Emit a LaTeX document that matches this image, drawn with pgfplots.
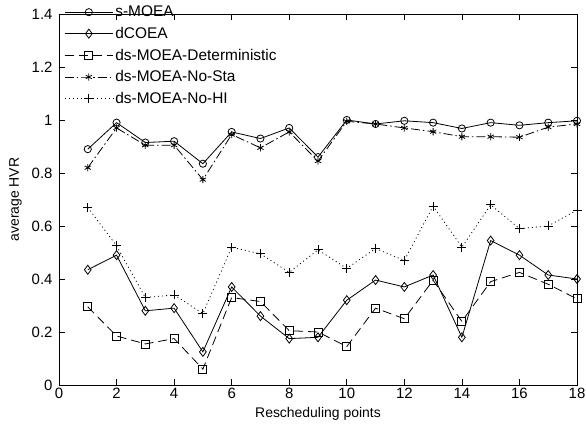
\documentclass[border=0pt]{standalone}
\usepackage{pgfplots}
\pgfplotsset{compat=1.18}
\usepackage{fontspec}
\setmainfont{Liberation Sans}
\begin{document}
\begin{tikzpicture}
\begin{axis}[
  scale only axis,
  width=518bp, height=371bp,
  xmin=0, xmax=18, ymin=0, ymax=1.4,
  xtick={0,2,...,18},
  ytick={0,0.2,0.4,0.6,0.8,1,1.2,1.4},
  yticklabels={0,0.2,0.4,0.6,0.8,1,1.2,1.4},
  tick align=inside,
  tick pos=both,
  major tick length=6bp,
  every tick/.style={black, line width=0.7pt},
  axis line style={line width=0.9pt},
  /pgf/number format/assume math mode=true,
  tick label style={font=\fontsize{15}{17}\selectfont},
  yticklabel style={xshift=-3bp},
  label style={font=\fontsize{14}{16}\selectfont},
  xlabel={Rescheduling points},
  ylabel={average HVR},
  xlabel style={yshift=-1bp},
  ylabel style={yshift=3bp},
  legend style={at={(0.008,1.03)}, anchor=north west, draw=none, fill=none,
    font=\fontsize{15.5}{17}\selectfont, row sep=5bp, inner sep=1bp},
  legend cell align=left,
  legend image code/.code={
    \draw[mark repeat=2,mark phase=2,#1] plot coordinates {(0cm,0cm) (0.85cm,0cm) (1.7cm,0cm)};
  },
  every axis plot/.append style={black, line width=0.8pt, mark size=3.6bp},
]
\addplot[solid, mark=o] coordinates {
(1,0.89)(2,0.99)(3,0.915)(4,0.92)(5,0.835)(6,0.955)(7,0.93)(8,0.97)(9,0.86)
(10,1.0)(11,0.985)(12,0.997)(13,0.99)(14,0.968)(15,0.99)(16,0.98)(17,0.99)(18,0.997)};
\addlegendentry{s-MOEA}
\addplot[solid, mark=diamond, mark size=4.5bp] coordinates {
(1,0.435)(2,0.49)(3,0.28)(4,0.29)(5,0.125)(6,0.37)(7,0.26)(8,0.175)(9,0.18)
(10,0.32)(11,0.396)(12,0.37)(13,0.415)(14,0.18)(15,0.545)(16,0.49)(17,0.415)(18,0.40)};
\addlegendentry{dCOEA}
\addplot[dash pattern=on 9bp off 5bp, mark=square, mark options={solid}, mark size=4bp] coordinates {
(1,0.295)(2,0.185)(3,0.155)(4,0.175)(5,0.06)(6,0.33)(7,0.315)(8,0.205)(9,0.2)
(10,0.145)(11,0.29)(12,0.25)(13,0.395)(14,0.24)(15,0.39)(16,0.425)(17,0.38)(18,0.325)};
\addlegendentry{ds-MOEA-Deterministic}
\addplot[dash pattern=on 9bp off 3bp on 1.5bp off 3bp, mark=asterisk, mark options={solid}] coordinates {
(1,0.82)(2,0.97)(3,0.905)(4,0.905)(5,0.775)(6,0.945)(7,0.895)(8,0.955)(9,0.845)
(10,0.995)(11,0.985)(12,0.97)(13,0.956)(14,0.937)(15,0.937)(16,0.935)(17,0.973)(18,0.985)};
\addlegendentry{ds-MOEA-No-Sta}
\addplot[dash pattern=on 1bp off 3bp, mark=+, mark options={solid}, mark size=4.5bp] coordinates {
(1,0.67)(2,0.525)(3,0.33)(4,0.34)(5,0.27)(6,0.52)(7,0.495)(8,0.425)(9,0.51)
(10,0.44)(11,0.515)(12,0.47)(13,0.675)(14,0.52)(15,0.68)(16,0.59)(17,0.6)(18,0.66)};
\addlegendentry{ds-MOEA-No-HI}
\end{axis}
\pgfresetboundingbox
\path ([xshift=-59bp,yshift=-46bp]current axis.south west) rectangle ([xshift=9bp,yshift=14bp]current axis.north east);
\end{tikzpicture}
\end{document}
